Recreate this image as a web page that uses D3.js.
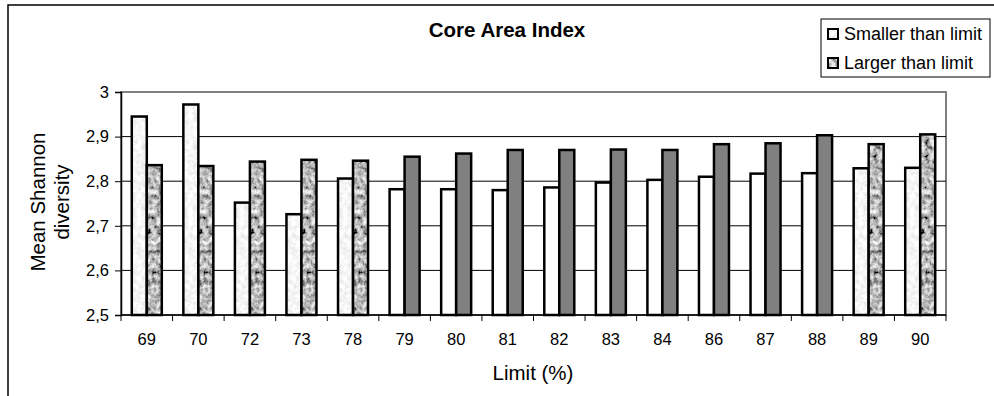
<!DOCTYPE html>
<html>
<head>
<meta charset="utf-8">
<script src="https://cdn.jsdelivr.net/npm/d3@7"></script>
<style>
  html, body { margin: 0; padding: 0; background: #fff; }
  svg { display: block; font-family: "Liberation Sans", Arial, sans-serif; }
</style>
</head>
<body>
<svg id="chart" width="994" height="396"></svg>
<script>
// Limit values (%) on the x axis
const limits = ["69", "70", "72", "73", "78", "79", "80", "81", "82", "83", "84", "86", "87", "88", "89", "90"];
// Mean Shannon diversity of patches smaller than the limit
const smaller = [2.945, 2.972, 2.752, 2.726, 2.806, 2.782, 2.782, 2.780, 2.786, 2.797, 2.803, 2.810, 2.817, 2.818, 2.829, 2.830];
// Mean Shannon diversity of patches larger than the limit
const larger  = [2.836, 2.834, 2.844, 2.848, 2.846, 2.855, 2.862, 2.870, 2.870, 2.871, 2.870, 2.883, 2.885, 2.903, 2.883, 2.905];
// Limits whose bars are drawn with a stippled fill
const stippled = ["69", "70", "72", "73", "78", "89", "90"];
const yTicks = [2.5, 2.6, 2.7, 2.8, 2.9, 3.0];
const seriesNames = ["Smaller than limit", "Larger than limit"];
</script>
<script>
const svg = d3.select("#chart");
const W = 994, H = 396;
const plot = { left: 121, right: 946, top: 92, bottom: 315 };

// stippled textures built from fractal noise
const defs = svg.append("defs");
function speckle(id, slope, intercept, freq, seed) {
  const f = defs.append("filter").attr("id", id)
    .attr("x", 0).attr("y", 0).attr("width", 1).attr("height", 1);
  f.append("feTurbulence").attr("type", "fractalNoise")
    .attr("baseFrequency", freq).attr("numOctaves", 3).attr("seed", seed).attr("result", "noise");
  f.append("feColorMatrix").attr("in", "noise").attr("type", "matrix")
    .attr("values", "1 0 0 0 0  1 0 0 0 0  1 0 0 0 0  0 0 0 0 1").attr("result", "gray");
  const ct = f.append("feComponentTransfer").attr("in", "gray").attr("result", "shade");
  ["feFuncR", "feFuncG", "feFuncB"].forEach(fn =>
    ct.append(fn).attr("type", "linear").attr("slope", slope).attr("intercept", intercept));
  f.append("feComposite").attr("in", "shade").attr("in2", "SourceGraphic").attr("operator", "in");
}
speckle("speckLight", 0.45, 0.7, 0.2, 4);
speckle("speckDark", 1.6, -0.3, 0.2, 9);

// outer frame
svg.append("path")
  .attr("d", `M8,${H} L8,5 L${W},5`)
  .attr("fill", "none").attr("stroke", "#000").attr("stroke-width", 1.5);

// scales
const x = d3.scaleBand().domain(limits).range([plot.left, plot.right]).paddingInner(0).paddingOuter(0);
const y = d3.scaleLinear().domain([2.5, 3.0]).range([plot.bottom, plot.top]);
const x1 = d3.scaleBand().domain([0, 1]).range([0, 30]);
const groupOffset = (x.bandwidth() - 30) / 2;

// plot area background and border
svg.append("rect")
  .attr("x", plot.left).attr("y", plot.top)
  .attr("width", plot.right - plot.left).attr("height", plot.bottom - plot.top)
  .attr("fill", "#fff").attr("stroke", "#808080").attr("stroke-width", 2);

// horizontal gridlines
svg.append("g").selectAll("line")
  .data(yTicks.slice(1, -1))
  .join("line")
  .attr("x1", plot.left).attr("x2", plot.right)
  .attr("y1", d => y(d)).attr("y2", d => y(d))
  .attr("stroke", "#000").attr("stroke-width", 1);

// bars
const rows = limits.map((l, i) => ({ limit: l, vals: [smaller[i], larger[i]] }));
const groups = svg.append("g").selectAll("g")
  .data(rows).join("g")
  .attr("transform", d => `translate(${x(d.limit) + groupOffset},0)`);

groups.each(function (d) {
  const g = d3.select(this);
  const tex = stippled.includes(d.limit);
  d.vals.forEach((v, k) => {
    const bx = x1(k), bw = x1.bandwidth(), by = y(v), bh = y(2.5) - y(v);
    if (tex) {
      g.append("rect").attr("x", bx).attr("y", by).attr("width", bw).attr("height", bh)
        .attr("fill", "#000").attr("filter", k === 0 ? "url(#speckLight)" : "url(#speckDark)");
    } else {
      g.append("rect").attr("x", bx).attr("y", by).attr("width", bw).attr("height", bh)
        .attr("fill", k === 0 ? "#ffffff" : "#808080");
    }
    g.append("rect").attr("x", bx).attr("y", by).attr("width", bw).attr("height", bh)
      .attr("fill", "none").attr("stroke", "#000").attr("stroke-width", 2.5);
  });
});

// y axis
const yAxis = svg.append("g").attr("transform", `translate(${plot.left},0)`)
  .call(d3.axisLeft(y).tickValues(yTicks).tickSize(6).tickPadding(6)
    .tickFormat(d => d3.format(".1~f")(d).replace(".", ",")));
yAxis.select(".domain").attr("stroke", "#000").attr("stroke-width", 1.5);
yAxis.selectAll("text").attr("font-size", 16.5).attr("fill", "#000")
  .attr("font-family", "'Liberation Sans', Arial, sans-serif");
yAxis.selectAll(".tick line").attr("stroke", "#000");

// x axis: ticks sit on category boundaries
const xAxisG = svg.append("g").attr("transform", `translate(0,${plot.bottom})`);
xAxisG.append("line").attr("x1", plot.left).attr("x2", plot.right)
  .attr("stroke", "#000").attr("stroke-width", 1.5);
const bounds = limits.map(l => x(l)).concat([plot.right]);
xAxisG.selectAll("line.tk").data(bounds).join("line").attr("class", "tk")
  .attr("x1", d => d).attr("x2", d => d).attr("y1", 0).attr("y2", 6)
  .attr("stroke", "#000");
xAxisG.selectAll("text").data(limits).join("text")
  .attr("x", d => x(d) + x.bandwidth() / 2).attr("y", 30)
  .attr("text-anchor", "middle").attr("font-size", 16.5).text(d => d);

// axis titles
svg.append("text").attr("x", 533).attr("y", 380)
  .attr("text-anchor", "middle").attr("font-size", 20.5).text("Limit (%)");
const yt = svg.append("text").attr("transform", `translate(0,202) rotate(-90)`)
  .attr("text-anchor", "middle").attr("font-size", 20.5);
yt.append("tspan").attr("x", 0).attr("y", 45).text("Mean Shannon");
yt.append("tspan").attr("x", 0).attr("y", 69).text("diversity");

// chart title
svg.append("text").attr("x", 507).attr("y", 37)
  .attr("text-anchor", "middle").attr("font-size", 20.5).attr("font-weight", "bold")
  .text("Core Area Index");

// legend
const lg = svg.append("g").attr("transform", "translate(821,19)");
lg.append("rect").attr("width", 169).attr("height", 58)
  .attr("fill", "#fff").attr("stroke", "#000").attr("stroke-width", 1);
seriesNames.forEach((name, k) => {
  const cy = 15 + k * 29;
  lg.append("rect").attr("x", 7).attr("y", cy - 5).attr("width", 10).attr("height", 10)
    .attr("fill", "#000").attr("filter", k === 0 ? "url(#speckLight)" : "url(#speckDark)");
  lg.append("rect").attr("x", 7).attr("y", cy - 5).attr("width", 10).attr("height", 10)
    .attr("fill", "none").attr("stroke", "#000").attr("stroke-width", 2);
  lg.append("text").attr("x", 23).attr("y", cy + 6).attr("font-size", 18).text(name);
});
</script>
</body>
</html>
